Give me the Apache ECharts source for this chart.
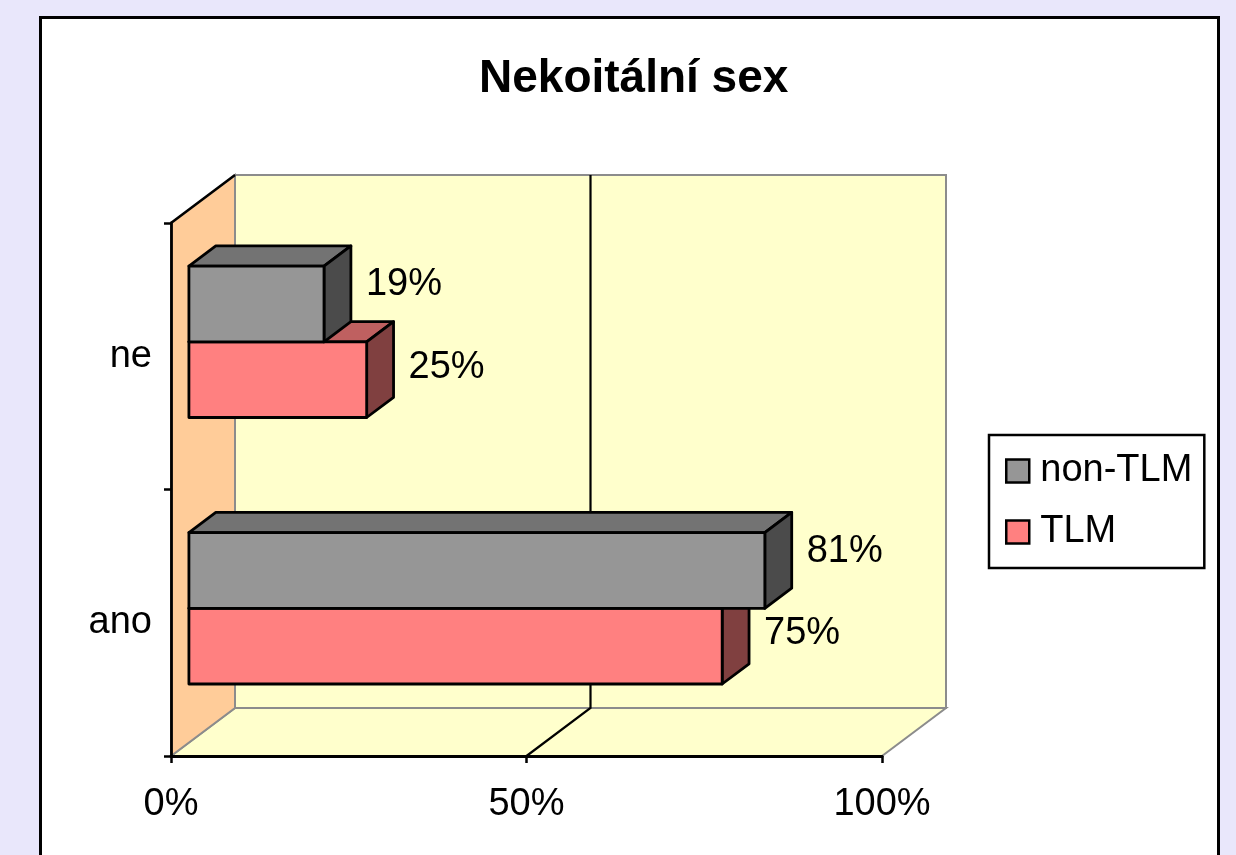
<!DOCTYPE html>
<html>
<head>
<meta charset="utf-8">
<script src="https://cdn.jsdelivr.net/npm/echarts@6/dist/echarts.min.js"></script>
<style>html,body{margin:0;padding:0;background:#e9e7fb;}#c{width:1236px;height:855px;}</style>
</head>
<body>
<div id="c"></div>
<script>
var categories = ['ano', 'ne'];
var seriesNames = ['non-TLM', 'TLM'];
var nonTLM = [81, 19];
var TLM = [75, 25];
var xTicks = [0, 50, 100];

var FONT = 'Liberation Sans, Arial, sans-serif';
var DX = 64, DY = -48;          // depth of the 3D box
var F0 = 0.28, F1 = 0.70;       // bar front/back depth fractions
var BAR_FRAC = 0.284;           // bar thickness as fraction of category band

var COLORS = {
  'non-TLM': {front: '#969696', top: '#737373', side: '#4b4b4b'},
  'TLM': {front: '#ff8080', top: '#bf6060', side: '#804040'}
};

var chart = echarts.init(document.getElementById('c'), null, {renderer: 'canvas'});

function wallsRender(params, api) {
  var cs = params.coordSys;
  var x0 = cs.x, y0 = cs.y, x1 = cs.x + cs.width, y1 = cs.y + cs.height;
  var children = [];
  children.push({type: 'polygon', shape: {points: [[x0 + DX, y0 + DY], [x1 + DX, y0 + DY], [x1 + DX, y1 + DY], [x0 + DX, y1 + DY]]},
    style: {fill: '#ffffcc', stroke: '#8c8c8c', lineWidth: 2}});
  children.push({type: 'polygon', shape: {points: [[x0, y1], [x0 + DX, y1 + DY], [x1 + DX, y1 + DY], [x1, y1]]},
    style: {fill: '#ffffcc', stroke: '#8c8c8c', lineWidth: 2}});
  children.push({type: 'polygon', shape: {points: [[x0, y0], [x0 + DX, y0 + DY], [x0 + DX, y1 + DY], [x0, y1]]},
    style: {fill: '#ffcc99', stroke: '#8c8c8c', lineWidth: 2}});
  children.push({type: 'line', shape: {x1: x0, y1: y0, x2: x0 + DX, y2: y0 + DY},
    style: {stroke: '#000', lineWidth: 2.5}});
  for (var i = 1; i < xTicks.length - 1; i++) {
    var gx = api.coord([xTicks[i], 0])[0];
    children.push({type: 'polyline', shape: {points: [[gx, y1], [gx + DX, y1 + DY], [gx + DX, y0 + DY]]},
      style: {stroke: '#000', lineWidth: 2.2, fill: null}});
  }
  return {type: 'group', children: children};
}

function barRender(name, upper) {
  var col = COLORS[name];
  return function (params, api) {
    var v = api.value(0), cat = api.value(1);
    var p0 = api.coord([0, cat]);
    var p1 = api.coord([v, cat]);
    var band = api.size([0, 1])[1];
    var h = band * BAR_FRAC;
    var fx = DX * F0, fy = DY * F0;
    var bx = DX * (F1 - F0), by = DY * (F1 - F0);
    var xL = p0[0] + fx, xR = p1[0] + fx;
    var yc = p0[1] + fy - 1;
    var yT = upper ? yc - h : yc;
    var yB = yT + h;
    var st = {stroke: '#000', lineWidth: 2.8, lineJoin: 'round'};
    return {type: 'group', children: [
      {type: 'polygon', shape: {points: [[xL, yT], [xL + bx, yT + by], [xR + bx, yT + by], [xR, yT]]},
        style: Object.assign({fill: col.top}, st)},
      {type: 'polygon', shape: {points: [[xR, yT], [xR + bx, yT + by], [xR + bx, yB + by], [xR, yB]]},
        style: Object.assign({fill: col.side}, st)},
      {type: 'rect', shape: {x: xL, y: yT, width: xR - xL, height: h},
        style: Object.assign({fill: col.front}, st)},
      {type: 'text', style: {text: Math.round(v) + '%', x: xR + bx + 15, y: (yT + yB) / 2 + by + (upper ? 1 : 8),
        fill: '#000', fontSize: 38, fontFamily: FONT, align: 'left', verticalAlign: 'middle'}}
    ]};
  };
}

function toData(vals) { return vals.map(function (v, i) { return [v, i]; }); }

var option = {
  backgroundColor: '#e9e7fb',
  animation: false,
  graphic: [{
    type: 'rect', z: -10, silent: true,
    shape: {x: 40.5, y: 17.5, width: 1178, height: 900},
    style: {fill: '#ffffff', stroke: '#000', lineWidth: 3}
  }],
  title: {
    text: 'Nekoitální sex', left: 474, top: 51,
    textStyle: {fontFamily: FONT, fontSize: 46, fontWeight: 'bold', color: '#000'}
  },
  legend: {
    data: seriesNames,
    orient: 'vertical', left: 989, top: 435,
    padding: [16, 12, 16, 16],
    itemGap: 21, itemWidth: 23, itemHeight: 23,
    icon: 'rect',
    backgroundColor: '#ffffff', borderColor: '#000', borderWidth: 2.5,
    itemStyle: {borderColor: '#000', borderWidth: 2.5},
    textStyle: {fontFamily: FONT, fontSize: 38, color: '#000', lineHeight: 40, padding: [0, 0, 0, 6]}
  },
  grid: {left: 171, top: 223, width: 711, height: 533, containLabel: false},
  xAxis: {
    type: 'value', min: 0, max: 100, interval: 50, z: 10,
    axisLine: {show: true, lineStyle: {color: '#000', width: 2.8}},
    axisTick: {show: true, length: 7, lineStyle: {color: '#000', width: 2.5}},
    splitLine: {show: false},
    axisLabel: {formatter: '{value}%', fontFamily: FONT, fontSize: 38, color: '#000', margin: 30}
  },
  yAxis: {
    type: 'category', data: categories, z: 10,
    axisLine: {show: true, lineStyle: {color: '#000', width: 2.8}},
    axisTick: {show: true, length: 7, lineStyle: {color: '#000', width: 2.5}},
    splitLine: {show: false},
    axisLabel: {fontFamily: FONT, fontSize: 38, color: '#000', margin: 19}
  },
  series: [
    {type: 'custom', name: '__walls', silent: true, z: 1, renderItem: wallsRender, data: [[0, 0]], clip: false},
    {type: 'custom', name: 'non-TLM', z: 4, renderItem: barRender('non-TLM', true), data: toData(nonTLM),
      itemStyle: {color: COLORS['non-TLM'].front}, clip: false},
    {type: 'custom', name: 'TLM', z: 3, renderItem: barRender('TLM', false), data: toData(TLM),
      itemStyle: {color: COLORS['TLM'].front}, clip: false}
  ]
};
chart.setOption(option);
</script>
</body>
</html>
